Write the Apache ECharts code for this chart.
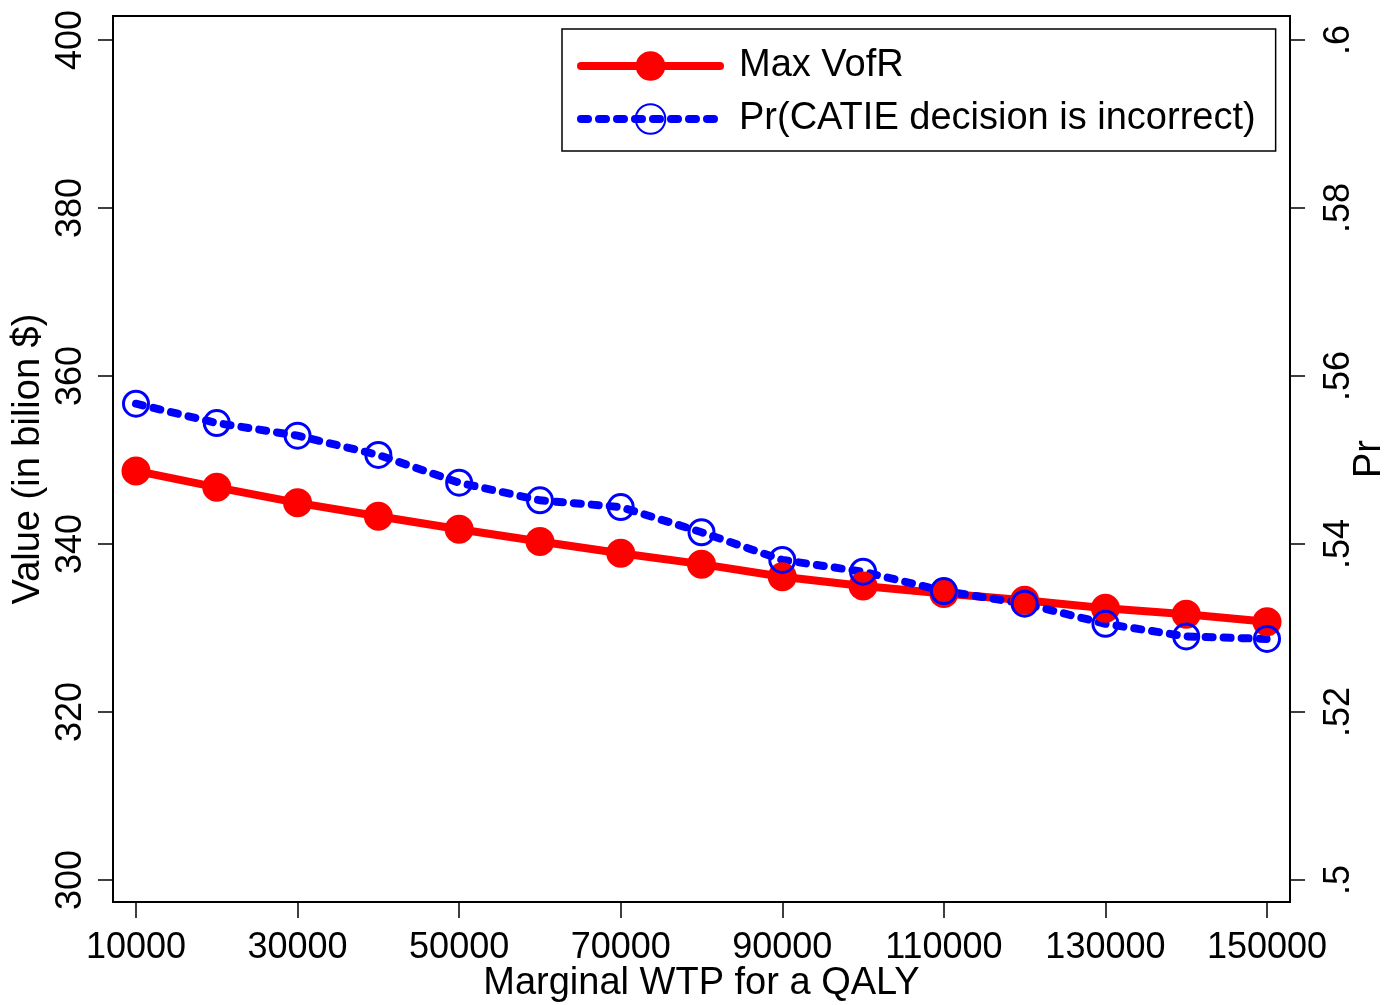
<!DOCTYPE html>
<html>
<head>
<meta charset="utf-8">
<script src="https://cdn.jsdelivr.net/npm/echarts@6/dist/echarts.min.js"></script>
<style>
  html, body { margin: 0; padding: 0; background: #fff; }
  #main { width: 1386px; height: 1005px; }
</style>
</head>
<body>
<div id="main"></div>
<script>
// WTP values on the x axis
var wtp = [10000, 20000, 30000, 40000, 50000, 60000, 70000, 80000, 90000, 100000, 110000, 120000, 130000, 140000, 150000];
// Max VofR (left axis, billion $)
var maxVofR = [348.7, 346.75, 344.9, 343.3, 341.75, 340.3, 338.9, 337.6, 336.1, 335.0, 334.1, 333.3, 332.35, 331.65, 330.75];
// Pr(CATIE decision is incorrect) (right axis)
var prIncorrect = [0.5567, 0.5544, 0.5529, 0.5506, 0.5473, 0.5452, 0.5444, 0.5414, 0.5381, 0.5367, 0.5344, 0.5329, 0.5305, 0.5290, 0.5287];
// tick labels
var xTicks = [10000, 30000, 50000, 70000, 90000, 110000, 130000, 150000];
var leftTicks = [300, 320, 340, 360, 380, 400];
var rightTicks = [0.5, 0.52, 0.54, 0.56, 0.58, 0.6];

var font = "'Liberation Sans', Arial, sans-serif";
var myChart = echarts.init(document.getElementById('main'));

function pairs(ys) {
	return wtp.map(function(x, i) { return [x, ys[i]]; });
}

var options = {
	backgroundColor: '#fff',
	animation: false,
	grid: {
		left: 113,
		right: 96,
		top: 16,
		bottom: 103,
		outerBoundsMode: 'none',
		containLabel: false,
		show: true,
		borderColor: '#000',
		borderWidth: 2
	},
	legend: {
		orient: 'vertical',
		left: 562,
		top: 29,
		padding: [18, 20, 13, 15],
		itemWidth: 139,
		itemHeight: 37,
		itemGap: 15,
		backgroundColor: '#fff',
		borderColor: '#000',
		borderWidth: 1.5,
		lineStyle: { width: 8, cap: 'round' },
		textStyle: {
			fontFamily: font,
			fontSize: 38,
			color: '#000',
			padding: [0, 0, 0, 14]
		},
		data: ['Max VofR', 'Pr(CATIE decision is incorrect)']
	},
	xAxis: {
		type: 'value',
		min: 7153,
		max: 152847,
		name: 'Marginal WTP for a QALY',
		nameLocation: 'middle',
		nameMoveOverlap: false,
		nameGap: 82,
		nameTextStyle: { fontFamily: font, fontSize: 38, color: '#000', verticalAlign: 'middle' },
		axisLine: { show: true, lineStyle: { color: '#000', width: 2 } },
		axisTick: { show: true, length: 16, customValues: xTicks, lineStyle: { color: '#000', width: 1.5 } },
		axisLabel: {
			customValues: xTicks,
			margin: 28,
			fontFamily: font,
			fontSize: 36,
			color: '#000',
			formatter: function(v) { return String(v); }
		},
		splitLine: { show: false }
	},
	yAxis: [{
		type: 'value',
		position: 'left',
		min: 297.381,
		max: 402.857,
		name: 'Value (in bilion $)',
		nameLocation: 'middle',
		nameMoveOverlap: false,
		nameRotate: 90,
		nameGap: 84,
		nameTextStyle: { fontFamily: font, fontSize: 38, color: '#000', verticalAlign: 'middle' },
		axisLine: { show: true, lineStyle: { color: '#000', width: 2 } },
		axisTick: { show: true, length: 15, customValues: leftTicks, lineStyle: { color: '#000', width: 1.5 } },
		axisLabel: { customValues: leftTicks, rotate: 90, margin: 24, fontFamily: font, fontSize: 36, color: '#000' },
		splitLine: { show: false }
	}, {
		type: 'value',
		position: 'right',
		min: 0.497381,
		max: 0.602857,
		name: 'Pr',
		nameLocation: 'middle',
		nameMoveOverlap: false,
		nameRotate: 90,
		nameGap: 80,
		nameTextStyle: { fontFamily: font, fontSize: 38, color: '#000', verticalAlign: 'middle' },
		axisLine: { show: true, lineStyle: { color: '#000', width: 2 } },
		axisTick: { show: true, length: 15, customValues: rightTicks, lineStyle: { color: '#000', width: 1.5 } },
		axisLabel: {
			customValues: rightTicks,
			rotate: 90,
			margin: 31,
			fontFamily: font,
			fontSize: 36,
			color: '#000',
			formatter: function(v) {
				return String(Math.round(v * 100) / 100).replace(/^0/, '');
			}
		},
		splitLine: { show: false }
	}],
	series: [{
		name: 'Max VofR',
		type: 'line',
		yAxisIndex: 0,
		symbol: 'circle',
		symbolSize: 29,
		lineStyle: { color: '#ff0000', width: 8, cap: 'round', join: 'round' },
		itemStyle: { color: '#ff0000' },
		data: pairs(maxVofR)
	}, {
		name: 'Pr(CATIE decision is incorrect)',
		type: 'line',
		yAxisIndex: 1,
		symbol: 'circle',
		symbolSize: 25,
		lineStyle: { color: '#0000ff', width: 8, type: [7, 11], cap: 'round', join: 'round' },
		itemStyle: { color: 'rgba(0,0,0,0)', borderColor: '#0000ff', borderWidth: 3 },
		data: pairs(prIncorrect)
	}]
};
myChart.setOption(options);
</script>
</body>
</html>
